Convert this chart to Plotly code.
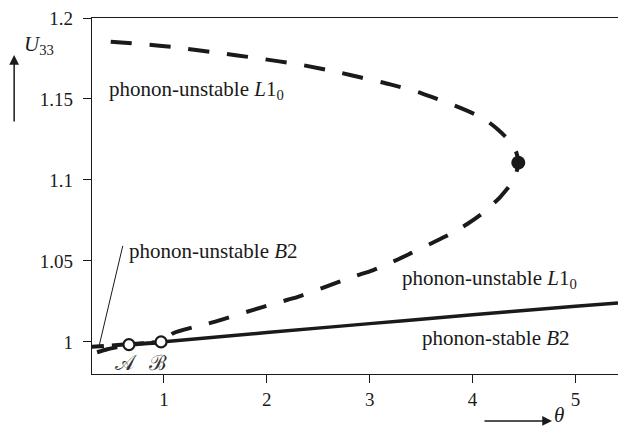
import plotly.graph_objects as go

# L1_0 branch: upper branch out to the turning point, then the lower branch back down
theta_l10 = [0.483, 0.80, 1.108, 1.513, 1.917, 2.323, 2.718, 2.906, 3.20, 3.505,
             3.887, 4.10, 4.240, 4.36, 4.425, 4.444, 4.425, 4.390, 4.266, 4.104,
             3.948, 3.764, 3.586, 3.401, 3.229, 3.035, 2.841, 2.55, 2.258, 2.063,
             1.869, 1.674, 1.480, 1.286, 1.091, 0.972, 0.80, 0.66, 0.45, 0.30]
u_l10 = [1.1854, 1.1838, 1.1819, 1.1786, 1.1751, 1.1712, 1.1662, 1.1634, 1.1590, 1.1535,
         1.1443, 1.1382, 1.1315, 1.1240, 1.1170, 1.1107, 1.1045, 1.0990, 1.0893, 1.0798,
         1.0728, 1.0660, 1.0605, 1.0548, 1.0496, 1.0444, 1.0403, 1.0335, 1.0270, 1.0235,
         1.0198, 1.0160, 1.0122, 1.0091, 1.0054, 1.0000, 0.9990, 0.9981, 0.9955, 0.9926]

# B2 branch: phonon-unstable below point B, phonon-stable above
theta_b2_unstable = [0.30, 0.66, 0.972]
u_b2_unstable = [0.9970, 0.9983, 1.0000]
theta_b2_stable = [0.972, 2.0, 3.0, 4.0, 5.0, 5.413]
u_b2_stable = [1.0000, 1.0058, 1.0113, 1.0168, 1.0220, 1.0241]

# special points
theta_ab = [0.66, 0.972]
u_ab = [0.9983, 1.0000]
ab_labels = ["𝒜", "ℬ"]
theta_turn = [4.444]
u_turn = [1.1107]

x_ticks = [1, 2, 3, 4, 5]
y_ticks = [1.0, 1.05, 1.1, 1.15, 1.2]
y_tick_text = ["1", "1.05", "1.1", "1.15", "1.2"]

SERIF = "Liberation Serif"
INK = "#1a1a1a"

fig = go.Figure()

fig.add_trace(go.Scatter(
    x=theta_l10, y=u_l10, mode="lines",
    line=dict(color=INK, width=4, dash="21px,18px", shape="spline", smoothing=0.6),
    hoverinfo="skip"))
fig.add_trace(go.Scatter(
    x=theta_b2_unstable, y=u_b2_unstable, mode="lines",
    line=dict(color=INK, width=4, dash="12px,8px"), hoverinfo="skip"))
fig.add_trace(go.Scatter(
    x=theta_b2_stable, y=u_b2_stable, mode="lines",
    line=dict(color=INK, width=3.5, shape="spline"), hoverinfo="skip"))
fig.add_trace(go.Scatter(
    x=theta_ab, y=u_ab, mode="markers",
    marker=dict(size=11, color="white", line=dict(color=INK, width=2.2)),
    hoverinfo="skip"))
fig.add_trace(go.Scatter(
    x=theta_turn, y=u_turn, mode="markers",
    marker=dict(size=14, color=INK), hoverinfo="skip"))

# leader line for the unstable B2 label
fig.add_shape(type="line", x0=0.60, y0=1.0593, x1=0.37, y1=0.9975,
              line=dict(color=INK, width=1))

label_font = dict(family=SERIF, size=21, color=INK)
for txt, x, y in [
    ("phonon-unstable <i>L</i>1<sub>0</sub>", 0.447, 1.1556),
    ("phonon-unstable <i>B</i>2", 0.641, 1.0560),
    ("phonon-unstable <i>L</i>1<sub>0</sub>", 3.294, 1.0389),
    ("phonon-stable <i>B</i>2", 3.489, 1.0025),
]:
    fig.add_annotation(x=x, y=y, text=txt, showarrow=False, xanchor="left",
                       yanchor="middle", font=label_font)

for lab, x in zip(ab_labels, theta_ab):
    fig.add_annotation(x=x - 0.025, y=0.9868, text=lab, showarrow=False,
                       font=dict(family=SERIF, size=21, color="#333"))

# axis captions with arrows
fig.add_annotation(xref="paper", yref="paper", x=-0.148, y=0.896, ax=0, ay=68,
                   text="", showarrow=True, arrowhead=2, arrowsize=1.3,
                   arrowwidth=1.5, arrowcolor=INK)
fig.add_annotation(xref="paper", yref="paper", x=-0.133, y=0.965,
                   text="<i>U</i><sub>33</sub>", showarrow=False,
                   font=dict(family=SERIF, size=21, color=INK))
fig.add_annotation(xref="paper", yref="paper", x=0.8745, y=-0.132, ax=-69, ay=0,
                   text="", showarrow=True, arrowhead=2, arrowsize=1.3,
                   arrowwidth=1.5, arrowcolor=INK)
fig.add_annotation(xref="paper", yref="paper", x=0.901, y=-0.155,
                   text="<i>θ</i>", showarrow=False,
                   font=dict(family=SERIF, size=21, color=INK))

axis_common = dict(showgrid=False, zeroline=False, showline=True, linecolor=INK,
                   linewidth=1.3, ticks="outside", ticklen=8, tickwidth=1.3,
                   tickcolor=INK, tickfont=dict(family=SERIF, size=19, color=INK))
fig.update_xaxes(range=[0.301, 5.413], tickvals=x_ticks, mirror=True, **axis_common)
fig.update_yaxes(range=[0.9802, 1.2], tickvals=y_ticks, ticktext=y_tick_text,
                 ticklabelstandoff=6, **axis_common)

fig.update_layout(
    width=618, height=428, showlegend=False,
    margin=dict(l=92, r=0, t=18, b=54),
    plot_bgcolor="white", paper_bgcolor="white",
    font=dict(family=SERIF),
)

fig.write_html("out.html")
